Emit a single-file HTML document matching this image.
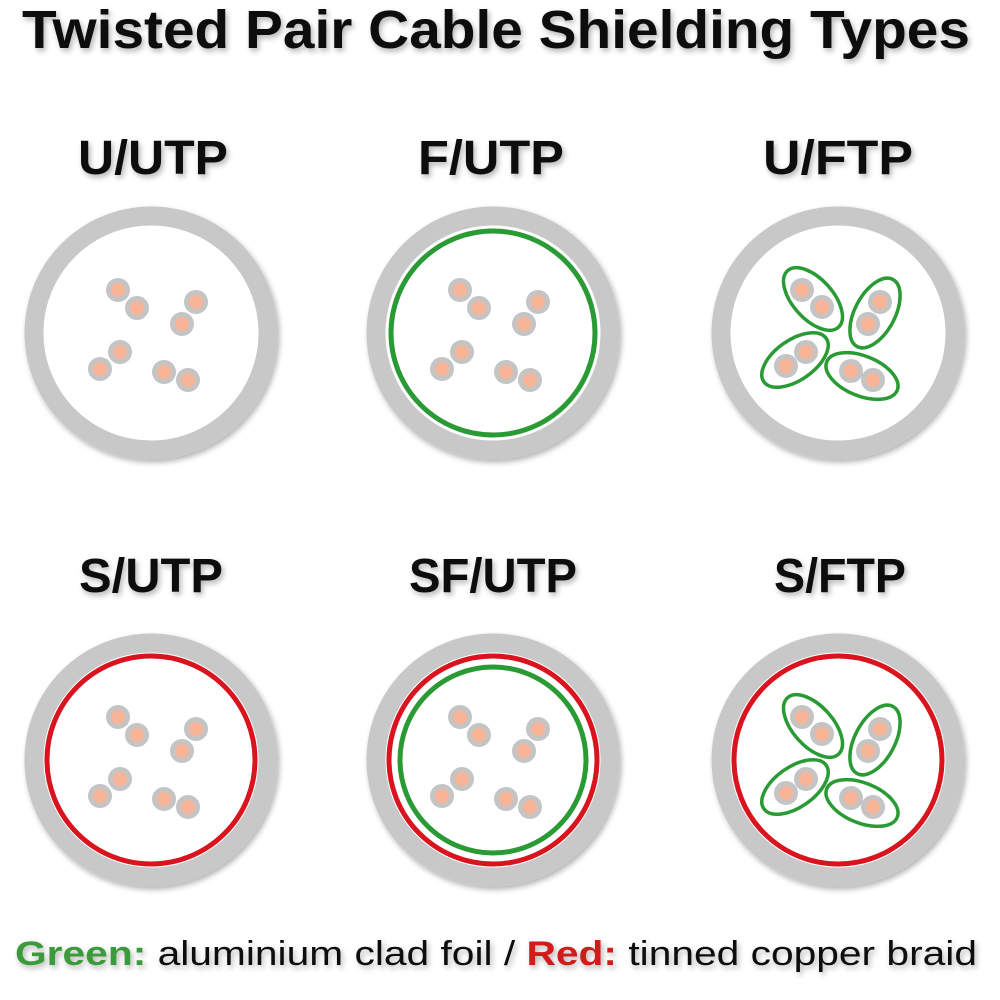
<!DOCTYPE html>
<html><head><style>html,body{margin:0;padding:0;background:#fff}svg{display:block}</style></head><body>
<svg width="1000" height="1000" viewBox="0 0 1000 1000" xmlns="http://www.w3.org/2000/svg">
<defs>
<filter id="sh" x="-20%" y="-20%" width="140%" height="140%"><feGaussianBlur in="SourceAlpha" stdDeviation="3"/><feOffset dx="2" dy="3"/><feComponentTransfer><feFuncA type="linear" slope="0.3"/></feComponentTransfer><feMerge><feMergeNode/><feMergeNode in="SourceGraphic"/></feMerge></filter>
<g id="dot"><circle r="12" fill="#c4c4c4"/><circle r="7" fill="#f7b496"/></g>
<g id="utp">
<use href="#dot" x="-33" y="-43"/><use href="#dot" x="-14" y="-25"/>
<use href="#dot" x="45" y="-31"/><use href="#dot" x="31" y="-9"/>
<use href="#dot" x="-31" y="19"/><use href="#dot" x="-51" y="36"/>
<use href="#dot" x="13" y="39"/><use href="#dot" x="37" y="47"/>
</g>
<g id="ftp">
<ellipse cx="-25" cy="-34" rx="38" ry="20" transform="rotate(48 -25 -34)" fill="#fff" stroke="#2a9a35" stroke-width="3.5"/>
<use href="#dot" x="-36" y="-43"/><use href="#dot" x="-16" y="-26"/>
<ellipse cx="37" cy="-20" rx="38" ry="20" transform="rotate(-62 37 -20)" fill="#fff" stroke="#2a9a35" stroke-width="3.5"/>
<use href="#dot" x="42" y="-31"/><use href="#dot" x="30" y="-9"/>
<ellipse cx="-43" cy="27" rx="38" ry="20" transform="rotate(-35 -43 27)" fill="#fff" stroke="#2a9a35" stroke-width="3.5"/>
<use href="#dot" x="-32" y="19"/><use href="#dot" x="-52" y="33"/>
<ellipse cx="24" cy="43" rx="38" ry="20" transform="rotate(22 24 43)" fill="#fff" stroke="#2a9a35" stroke-width="3.5"/>
<use href="#dot" x="13" y="38"/><use href="#dot" x="35" y="47"/>
</g>
<g id="jacket"><circle r="117" fill="#fff" stroke="#c8c8c8" stroke-width="19" filter="url(#sh)"/></g>
</defs>
<g font-family="'Liberation Sans',sans-serif" font-weight="bold" fill="#111" filter="url(#sh)">
<text x="22" y="48" font-size="54" textLength="948" lengthAdjust="spacingAndGlyphs">Twisted Pair Cable Shielding Types</text>
<g font-size="48" text-anchor="middle">
<text x="153" y="174" textLength="150" lengthAdjust="spacingAndGlyphs">U/UTP</text><text x="491" y="174" textLength="146" lengthAdjust="spacingAndGlyphs">F/UTP</text><text x="838" y="174" textLength="150" lengthAdjust="spacingAndGlyphs">U/FTP</text>
<text x="151" y="592" textLength="144" lengthAdjust="spacingAndGlyphs">S/UTP</text><text x="493" y="592" textLength="168" lengthAdjust="spacingAndGlyphs">SF/UTP</text><text x="840" y="592" textLength="132" lengthAdjust="spacingAndGlyphs">S/FTP</text>
</g>
</g>
<g transform="translate(151,333)"><use href="#jacket"/><use href="#utp"/></g>
<g transform="translate(493,333)"><use href="#jacket"/><circle r="102" fill="none" stroke="#2a9a35" stroke-width="5"/><use href="#utp"/></g>
<g transform="translate(838,333)"><use href="#jacket"/><use href="#ftp"/></g>
<g transform="translate(151,760)"><use href="#jacket"/><circle r="104" fill="none" stroke="#d9141e" stroke-width="5"/><use href="#utp"/></g>
<g transform="translate(493,760)"><use href="#jacket"/><circle r="104" fill="none" stroke="#d9141e" stroke-width="5"/><circle r="93" fill="none" stroke="#2a9a35" stroke-width="5"/><use href="#utp"/></g>
<g transform="translate(838,760)"><use href="#jacket"/><circle r="104" fill="none" stroke="#d9141e" stroke-width="5"/><use href="#ftp"/></g>
<text x="15" y="965" font-family="'Liberation Sans',sans-serif" font-size="34" fill="#111" textLength="962" lengthAdjust="spacingAndGlyphs" filter="url(#sh)"><tspan fill="#3a9b3a" font-weight="bold">Green:</tspan> aluminium clad foil / <tspan fill="#d11a1a" font-weight="bold">Red:</tspan> tinned copper braid</text>
</svg>
</body></html>
